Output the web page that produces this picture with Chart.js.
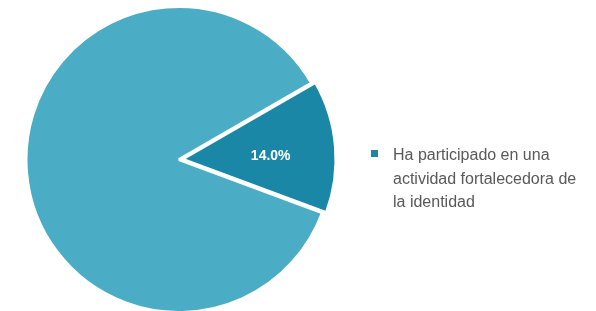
<!DOCTYPE html>
<html>
<head>
<meta charset="utf-8">
<script src="https://cdn.jsdelivr.net/npm/chart.js@4/dist/chart.umd.min.js"></script>
<style>
  html, body { margin: 0; padding: 0; background: #fff; }
  #wrap { position: relative; width: 596px; height: 311px; }
  #legend {
    position: absolute; left: 371px; top: 143px; width: 225px;
    font-family: "Liberation Sans", Arial, sans-serif; font-size: 16px;
    line-height: 23.5px; color: #595959;
  }
  #legend .box {
    position: absolute; left: 0; top: 7px; width: 7px; height: 7px; background: #1B87A6;
  }
  #legend .txt { position: absolute; left: 22px; top: 0; white-space: nowrap; }
</style>
</head>
<body>
<div id="wrap">
  <canvas id="chart" width="596" height="311"></canvas>
  <div id="legend"></div>
</div>
<script>
// --- datos ---
const categories = ['Ha participado en una actividad fortalecedora de la identidad', 'No ha participado'];
const values = [14.0, 86.0];
const colors = ['#1B87A6', '#4BACC6'];
const legendLines = ['Ha participado en una', 'actividad fortalecedora de', 'la identidad'];

// etiqueta del porcentaje dentro del sector pequeño
const sliceLabel = {
    id: 'sliceLabel',
    afterDatasetsDraw(chart) {
        const ctx = chart.ctx;
        const arc = chart.getDatasetMeta(0).data[0];
        const p = arc.tooltipPosition();
        ctx.save();
        ctx.fillStyle = '#ffffff';
        ctx.font = 'bold 14px "Liberation Sans", Arial, sans-serif';
        ctx.textAlign = 'center';
        ctx.textBaseline = 'middle';
        ctx.fillText(values[0].toFixed(1) + '%', p.x + 9, p.y + 4);
        ctx.restore();
    }
};

const chart = new Chart(document.getElementById('chart'), {
    type: 'pie',
    data: {
        labels: categories,
        datasets: [{
            data: values,
            backgroundColor: colors,
            borderColor: '#ffffff',
            borderWidth: 3,
            offset: [13, 0],
            radius: 153
        }]
    },
    options: {
        responsive: false,
        animation: false,
        rotation: 60,
        layout: { padding: { left: 26, right: 264, top: 8, bottom: 0 } },
        plugins: {
            legend: { display: false },
            tooltip: { enabled: false }
        }
    },
    plugins: [sliceLabel]
});

// leyenda (solo la primera categoría, en varias líneas)
const legendEl = document.getElementById('legend');
legendEl.innerHTML = '<span class="box"></span><div class="txt">' + legendLines.join('<br>') + '</div>';
</script>
</body>
</html>
